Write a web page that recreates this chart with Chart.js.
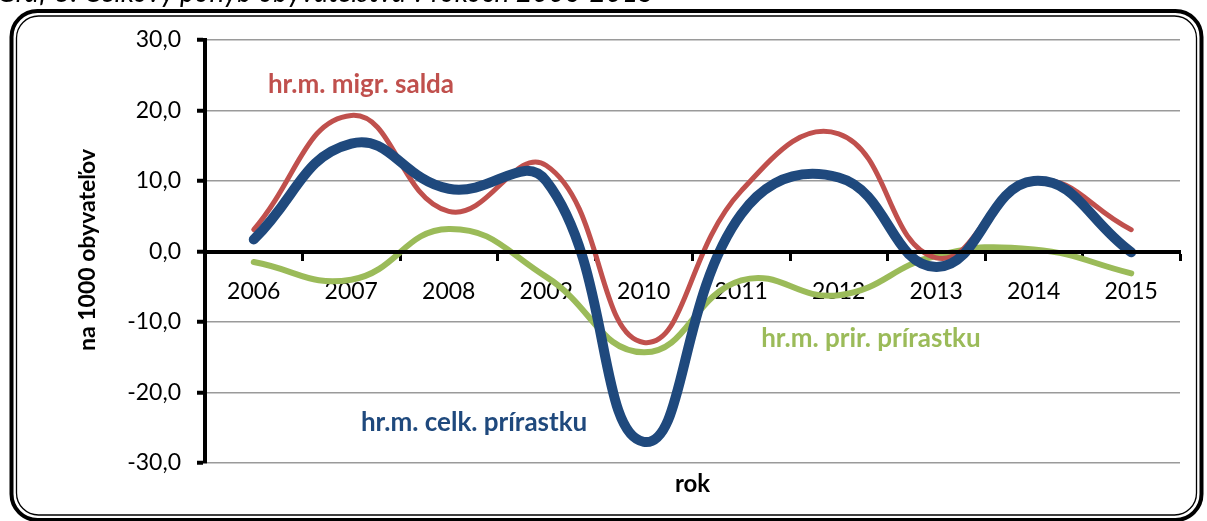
<!DOCTYPE html>
<html>
<head>
<meta charset="utf-8">
<script src="https://cdn.jsdelivr.net/npm/chart.js@4.4.1/dist/chart.umd.min.js"></script>
<style>
  html, body { margin:0; padding:0; background:#fff; overflow:hidden; }
  #wrap { position:relative; width:1207px; height:521px; }
  #title { position:absolute; left:-3px; top:-23px; font:italic 28px Lato, sans-serif; line-height:28px; color:#000; white-space:nowrap; }
  canvas { position:absolute; left:0; top:0; }
</style>
</head>
<body>
<div id="wrap">
  <canvas id="c" width="1207" height="521"></canvas>
  <div id="title">Graf 3: Celkový pohyb obyvateľstva v rokoch 2006-2015</div>
</div>
<script>
const years = ['2006','2007','2008','2009','2010','2011','2012','2013','2014','2015'];
const migrSalda = [3.1, 19.3, 5.7, 12.2, -12.9, 8.6, 16.7, -0.9, 10.0, 3.1];
const celkPrirastok = [1.7, 15.3, 8.9, 10.0, -27.0, 5.3, 10.5, -2.2, 10.0, -0.1];
const prirPrirastok = [-1.5, -4.0, 3.2, -3.6, -14.3, -4.1, -6.2, -0.6, 0.3, -3.1];
const yTicks = [-30, -20, -10, 0, 10, 20, 30];
const seriesLabels = ['hr.m. migr. salda', 'hr.m. celk. prírastku', 'hr.m. prir. prírastku'];

const framePlugin = {
  id: 'frame',
  beforeDraw(chart) {
    const ctx = chart.ctx;
    ctx.save();
    ctx.strokeStyle = '#000';
    ctx.lineWidth = 4;
    ctx.beginPath(); ctx.roundRect(11.5, 11, 1190, 509, 26); ctx.stroke();
    ctx.lineWidth = 1.3;
    ctx.beginPath(); ctx.roundRect(16.5, 16, 1180, 499, 22); ctx.stroke();
    ctx.restore();
  },
  afterDraw(chart) {
    const ctx = chart.ctx, xs = chart.scales.x, ys = chart.scales.y;
    ctx.save();
    ctx.font = 'bold 26px Lato, sans-serif';
    ctx.textAlign = 'center';
    ctx.textBaseline = 'alphabetic';
    const put = (txt, xi, yv, col) => {
      const x = xs.left + (xi + 0.5) * (xs.right - xs.left) / years.length;
      ctx.fillStyle = col;
      ctx.fillText(txt, x, ys.getPixelForValue(yv));
    };
    put(seriesLabels[0], 1.1, 22.55, '#C0504D');
    put(seriesLabels[1], 2.26, -25.5, '#1F497D');
    put(seriesLabels[2], 6.33, -13.57, '#9BBB59');
    // axis titles
    ctx.fillStyle = '#000';
    ctx.font = 'bold 24px Lato, sans-serif';
    ctx.fillText('rok', (xs.left + xs.right) / 2, 492);
    ctx.font = 'bold 23px Lato, sans-serif';
    ctx.textBaseline = 'middle';
    ctx.translate(88, 250);
    ctx.rotate(-Math.PI / 2);
    ctx.fillText('na 1000 obyvateľov', 0, 0);
    ctx.restore();
  }
};

new Chart(document.getElementById('c'), {
  type: 'line',
  data: {
    labels: years,
    datasets: [
      { label: seriesLabels[1], data: celkPrirastok, borderColor: '#1F497D', borderWidth: 10, order: 0 },
      { label: seriesLabels[0], data: migrSalda, borderColor: '#C0504D', borderWidth: 5, order: 1 },
      { label: seriesLabels[2], data: prirPrirastok, borderColor: '#9BBB59', borderWidth: 6, order: 2 }
    ].map(d => Object.assign(d, { tension: 0.45, pointRadius: 0, borderCapStyle: 'round', borderJoinStyle: 'round', fill: false }))
  },
  options: {
    responsive: false,
    animation: false,
    events: [],
    layout: { padding: { top: 40, bottom: 58, right: 27, left: 0 } },
    plugins: { legend: { display: false }, tooltip: { enabled: false } },
    scales: {
      x: {
        position: { y: 0 },
        offset: true,
        grid: { offset: true, drawOnChartArea: false, drawTicks: true, tickLength: 7, tickColor: '#000', tickWidth: 3 },
        border: { color: '#000', width: 4, z: 1 },
        ticks: { color: '#000', font: { family: 'Lato', size: 23 }, padding: 19, maxRotation: 0 }
      },
      y: {
        min: -30, max: 30,
        afterFit(s) { s.width = 205; },
        afterBuildTicks(s) { s.ticks = yTicks.map(v => ({ value: v })); },
        grid: { color: '#9a9a9a', lineWidth: 1.5, drawTicks: true, tickLength: 8, tickColor: '#000', tickWidth: 4 },
        border: { color: '#000', width: 4 },
        ticks: { color: '#000', font: { family: 'Lato', size: 23 }, padding: 16, callback: v => v.toFixed(1).replace('.', ',') }
      }
    }
  },
  plugins: [framePlugin]
});
</script>
</body>
</html>
